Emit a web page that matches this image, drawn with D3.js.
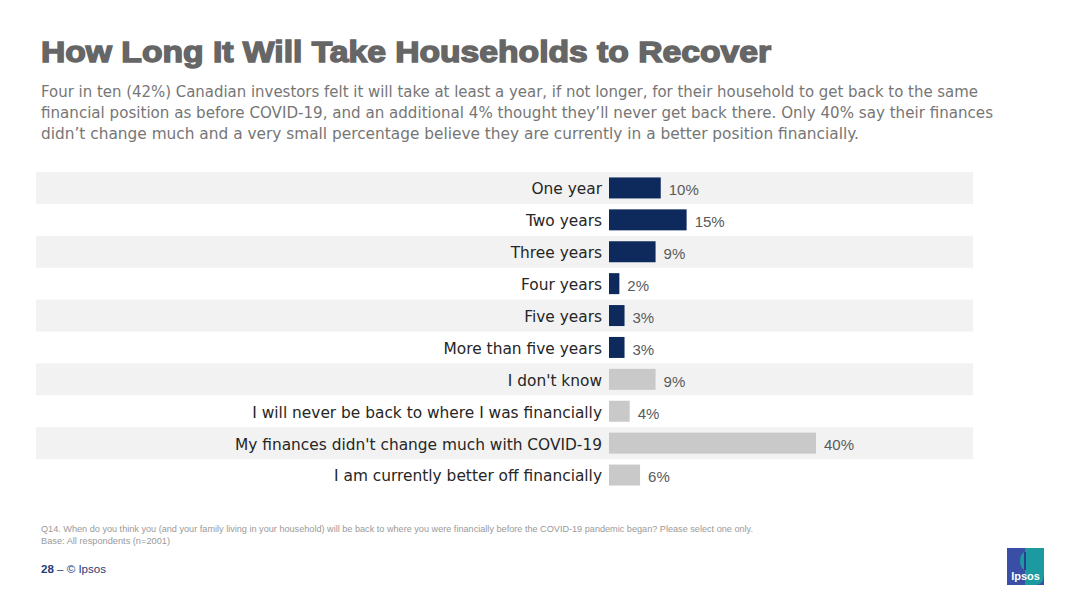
<!DOCTYPE html>
<html>
<head>
<meta charset="utf-8">
<script src="https://cdn.jsdelivr.net/npm/d3@7"></script>
<style>
  body { margin: 0; background: #fff; }
  svg { display: block; }
</style>
</head>
<body>
<svg id="chart" width="1080" height="608"></svg>
<script>
// data
const categories = [
  "One year", "Two years", "Three years", "Four years", "Five years",
  "More than five years", "I don't know",
  "I will never be back to where I was financially",
  "My finances didn't change much with COVID-19",
  "I am currently better off financially"
];
const values = [10, 15, 9, 2, 3, 3, 9, 4, 40, 6];
const groups = ["years", "years", "years", "years", "years", "years", "other", "other", "other", "other"];

const subtitleLines = [
  "Four in ten (42%) Canadian investors felt it will take at least a year, if not longer, for their household to get back to the same",
  "financial position as before COVID-19, and an additional 4% thought they\u2019ll never get back there. Only 40% say their finances",
  "didn\u2019t change much and a very small percentage believe they are currently in a better position financially."
];
const footnotes = [
  "Q14. When do you think you (and your family living in your household) will be back to where you were financially before the COVID-19 pandemic began?  Please select one only.",
  "Base: All respondents (n=2001)"
];

const svg = d3.select("#chart");
const labelFont = "'DejaVu Sans', 'Open Sans', sans-serif";

// title
svg.append("text")
  .attr("x", 41).attr("y", 62)
  .attr("font-family", "'Liberation Sans', Arial, sans-serif")
  .attr("font-weight", "bold")
  .attr("font-size", 29)
  .attr("fill", "#666666")
  .attr("stroke", "#666666").attr("stroke-width", 1.4)
  .attr("textLength", 730).attr("lengthAdjust", "spacingAndGlyphs")
  .text("How Long It Will Take Households to Recover");

// subtitle
const subWidths = [937, 952, 818];
svg.selectAll(".sub")
  .data(subtitleLines)
  .enter().append("text")
  .attr("class", "sub")
  .attr("x", 41)
  .attr("y", (d, i) => 97 + i * 21)
  .attr("font-family", labelFont)
  .attr("font-size", 15)
  .attr("fill", "#767676")
  .attr("textLength", (d, i) => subWidths[i])
  .attr("lengthAdjust", "spacingAndGlyphs")
  .text(d => d);

// scales
const y = d3.scaleBand()
  .domain(categories)
  .range([172, 491])
  .paddingInner(0);

const x = d3.scaleLinear()
  .domain([0, 40])
  .range([609, 816]);

const color = d3.scaleOrdinal()
  .domain(["years", "other"])
  .range(["#0e2a5c", "#c9c9c9"]);

const g = svg.append("g");

// alternating row stripes
g.selectAll(".stripe")
  .data(categories.filter((d, i) => i % 2 === 0))
  .enter().append("rect")
  .attr("class", "stripe")
  .attr("x", 36)
  .attr("y", d => y(d))
  .attr("width", 937)
  .attr("height", y.bandwidth())
  .attr("fill", "#f2f2f2");

const barH = 21;

g.selectAll(".bar")
  .data(values)
  .enter().append("rect")
  .attr("class", "bar")
  .attr("x", x(0))
  .attr("y", (d, i) => y(categories[i]) + (y.bandwidth() - barH) / 2)
  .attr("width", d => x(d) - x(0))
  .attr("height", barH)
  .attr("fill", (d, i) => color(groups[i]));

// category labels
g.selectAll(".cat")
  .data(categories)
  .enter().append("text")
  .attr("class", "cat")
  .attr("x", x(0) - 7)
  .attr("y", d => y(d) + y.bandwidth() / 2 + 1)
  .attr("dy", "0.35em")
  .attr("text-anchor", "end")
  .attr("font-family", labelFont)
  .attr("font-size", 15.4)
  .attr("fill", "#262626")
  .text(d => d);

// value labels
g.selectAll(".val")
  .data(values)
  .enter().append("text")
  .attr("class", "val")
  .attr("x", d => x(d) + 8)
  .attr("y", (d, i) => y(categories[i]) + y.bandwidth() / 2 + 2)
  .attr("dy", "0.35em")
  .attr("font-family", "'Liberation Sans', Arial, sans-serif")
  .attr("font-size", 15)
  .attr("fill", "#5a5a5a")
  .text(d => d + "%");

// footnotes
const footWidths = [712, 129];
svg.selectAll(".foot")
  .data(footnotes)
  .enter().append("text")
  .attr("class", "foot")
  .attr("x", 41)
  .attr("y", (d, i) => 532 + i * 12)
  .attr("font-family", "'Liberation Sans Narrow', 'Liberation Sans', Arial, sans-serif")
  .attr("font-size", 9)
  .attr("fill", "#9a9a9a")
  .attr("textLength", (d, i) => footWidths[i])
  .attr("lengthAdjust", "spacingAndGlyphs")
  .text(d => d);

// page number
const pn = svg.append("text")
  .attr("x", 41).attr("y", 573)
  .attr("font-family", "'Liberation Sans Narrow', 'Liberation Sans', Arial, sans-serif")
  .attr("font-size", 10.5)
  .attr("fill", "#1f3b7a")
  .attr("textLength", 65).attr("lengthAdjust", "spacingAndGlyphs");
pn.append("tspan").attr("font-weight", "bold").text("28");
pn.append("tspan").text(" \u2013  \u00a9 Ipsos");

// logo
const logo = svg.append("g").attr("transform", "translate(1007,548)");
logo.append("rect").attr("width", 37).attr("height", 37).attr("fill", "#3a4ea5");
logo.append("path")
  .attr("d", "M18,0 H37 V28 Q36,37 28,37 H18 Z")
  .attr("fill", "#1b9aa0");
logo.append("ellipse").attr("cx", 18).attr("cy", 13).attr("rx", 5).attr("ry", 9).attr("fill", "#1b9aa0");
logo.append("rect").attr("x", 17).attr("y", 4).attr("width", 2).attr("height", 18).attr("fill", "#2a3f8f");
logo.append("text")
  .attr("x", 18.5).attr("y", 32)
  .attr("text-anchor", "middle")
  .attr("font-family", "'Liberation Sans', Arial, sans-serif")
  .attr("font-weight", "bold")
  .attr("font-size", 11)
  .attr("fill", "#ffffff")
  .text("Ipsos");
</script>
</body>
</html>
